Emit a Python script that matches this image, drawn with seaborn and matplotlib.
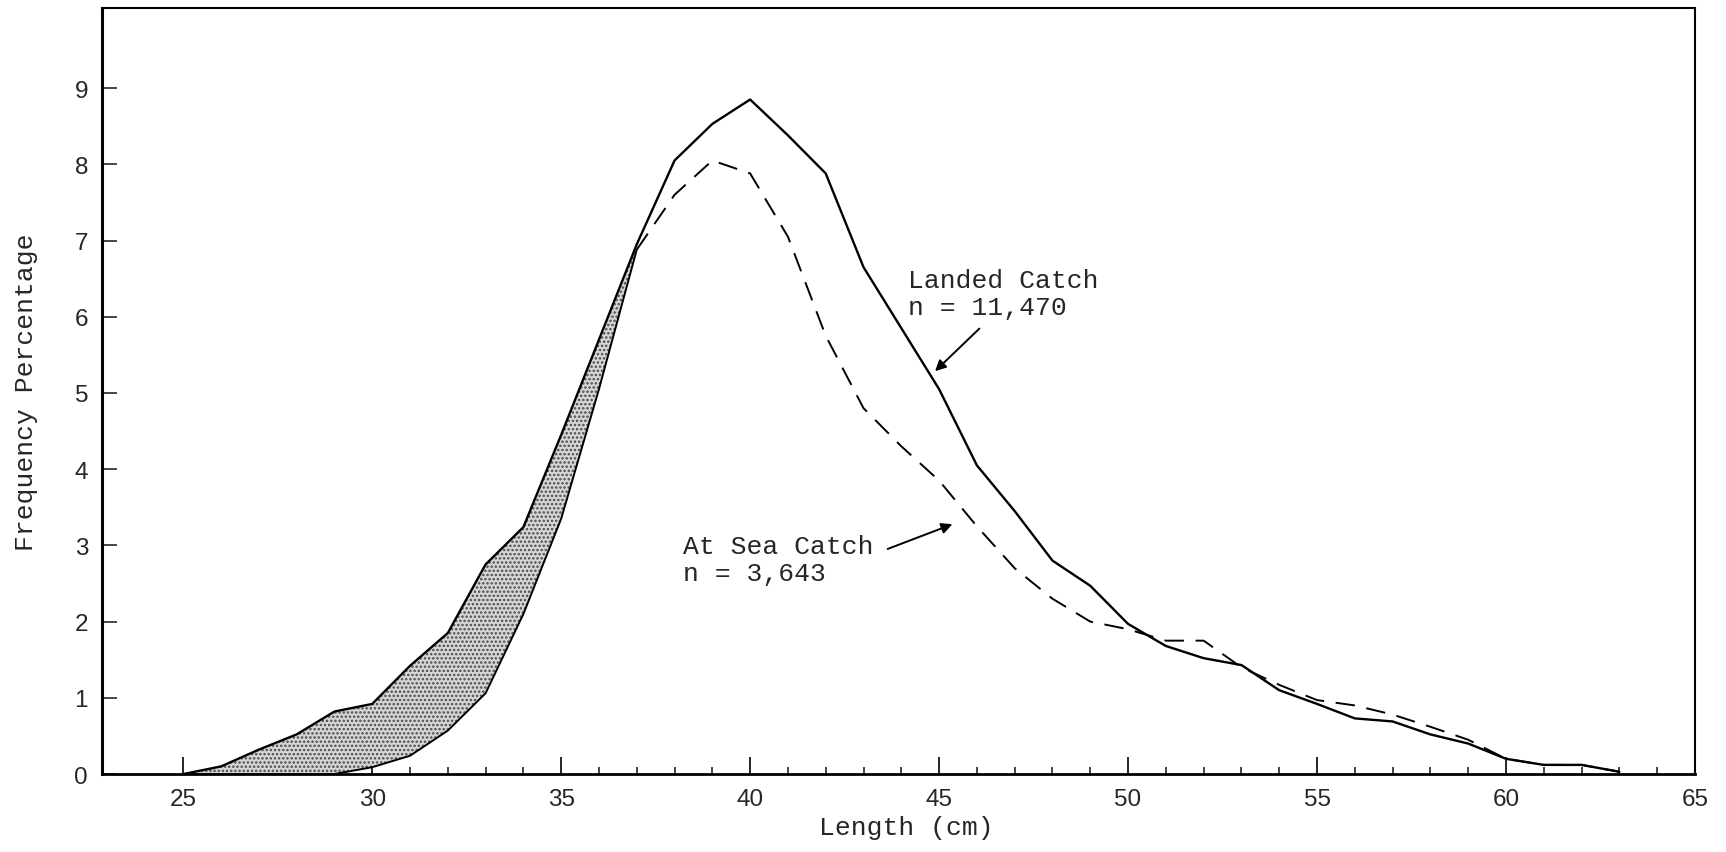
import numpy as np
import pandas as pd
import matplotlib.pyplot as plt
import seaborn as sns
from matplotlib.ticker import FixedLocator

# =====================
# Data (length in cm, frequency in %)
# =====================
lengths = list(range(25, 64))
landed = [0.0, 0.1, 0.32, 0.52, 0.82, 0.92, 1.42, 1.85, 2.75, 3.24,
          4.45, 5.7, 6.95, 8.05, 8.53, 8.85, 8.38, 7.88, 6.65, 5.85,
          5.05, 4.05, 3.45, 2.8, 2.47, 1.97, 1.68, 1.52, 1.43, 1.1,
          0.92, 0.73, 0.69, 0.52, 0.4, 0.2, 0.12, 0.12, 0.03]
at_sea = [0.0, 0.0, 0.0, 0.0, 0.0, 0.09, 0.24, 0.57, 1.06, 2.1,
          3.35, 5.05, 6.88, 7.6, 8.05, 7.88, 7.05, 5.75, 4.8, 4.3,
          3.85, 3.25, 2.7, 2.3, 2.0, 1.9, 1.75, 1.75, 1.4, 1.17,
          0.97, 0.9, 0.78, 0.62, 0.45, 0.2, 0.12, 0.12, 0.03]

x_major = [25, 30, 35, 40, 45, 50, 55, 60, 65]
x_minor = list(range(25, 65))
y_major = [0, 1, 2, 3, 4, 5, 6, 7, 8, 9]

landed_label = "Landed Catch\nn = 11,470"
sea_label = "At Sea Catch\nn = 3,643"

df = pd.DataFrame({"length": lengths, "landed": landed, "at_sea": at_sea})
left = df[df["length"] <= 37]
right = df[df["length"] >= 37]

sns.set_style("white")
plt.rcParams["font.family"] = ["Liberation Sans", "DejaVu Sans"]
plt.rcParams["hatch.linewidth"] = 1.2
mono = ["Liberation Mono", "DejaVu Sans Mono"]

fig = plt.figure(figsize=(17.26, 8.53), dpi=100)
ax = fig.add_axes([0.0591, 0.0914, 0.9229, 0.898])

# shaded band between the two curves on the rising side
ax.fill_between(left["length"], left["at_sea"], left["landed"],
                facecolor="#d6d6d6", edgecolor="#4a4a4a", hatch="....",
                linewidth=0)

sns.lineplot(data=df, x="length", y="landed", ax=ax, color="black",
             linewidth=1.7, estimator=None)
sns.lineplot(data=left, x="length", y="at_sea", ax=ax, color="black",
             linewidth=1.4, estimator=None)
sns.lineplot(data=right, x="length", y="at_sea", ax=ax, color="black",
             linewidth=1.4, linestyle=(0, (10, 6)), estimator=None)

# labels with arrows
ax.text(44.18, 6.64, landed_label, fontsize=19, family=mono,
        va="top", ha="left", linespacing=1.15)
ax.annotate("", xy=(44.84, 5.26), xytext=(46.12, 5.87),
            arrowprops=dict(arrowstyle="-|>", color="black", lw=1.4,
                            mutation_scale=16))
ax.text(38.23, 3.15, sea_label, fontsize=19, family=mono,
        va="top", ha="left", linespacing=1.15)
ax.annotate("", xy=(45.42, 3.29), xytext=(43.57, 2.94),
            arrowprops=dict(arrowstyle="-|>", color="black", lw=1.4,
                            mutation_scale=16))

ax.set_xlim(22.85, 65)
ax.set_ylim(0, 10.05)
ax.xaxis.set_major_locator(FixedLocator(x_major))
ax.xaxis.set_minor_locator(FixedLocator(x_minor))
ax.set_yticks(y_major)

ax.tick_params(axis="x", which="both", bottom=True, top=False)
ax.tick_params(axis="y", which="both", left=True, right=False)
ax.tick_params(axis="x", which="major", direction="in", length=12,
               width=1.4, labelsize=17.5, pad=10)
ax.tick_params(axis="x", which="minor", direction="in", length=5,
               width=1.2)
ax.tick_params(axis="y", which="major", direction="in", length=11,
               width=1.2, labelsize=17.5, pad=10)

for s in ax.spines.values():
    s.set_color("black")
    s.set_linewidth(1.5)
ax.spines["left"].set_linewidth(2.2)
ax.spines["bottom"].set_linewidth(2.0)

ax.set_xlabel("Length (cm)", fontsize=19, family=mono)
ax.set_ylabel("Frequency Percentage", fontsize=19, family=mono)
ax.xaxis.set_label_coords(0.505, -0.053)
ax.yaxis.set_label_coords(-0.04, 0.5)

plt.savefig("out.png", dpi=100)
plt.close()
